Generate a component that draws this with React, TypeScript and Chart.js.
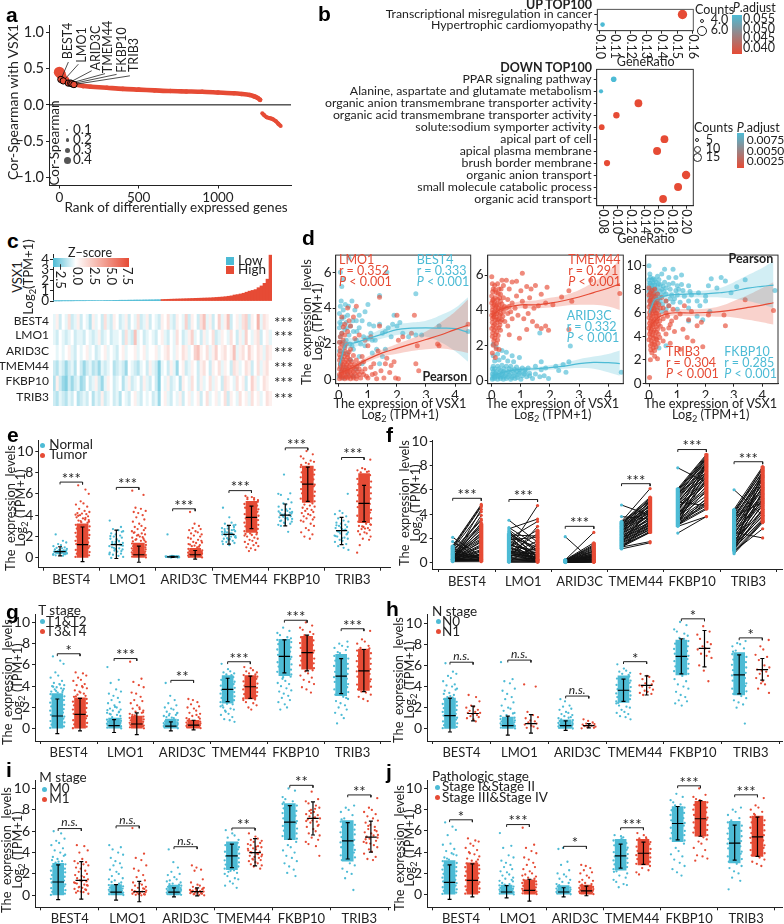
import React, { useEffect, useRef } from "react";
import { Chart, registerables } from "chart.js";
Chart.register(...registerables);

const FONT = 'Lato, "Open Sans", sans-serif';
const BLUE = "#4DBBD5";
const RED = "#E64B35";
const INK = "#222222";

// ---------- panel a ----------
const aRanks = [0, 10, 20, 40, 70, 100, 150, 200, 300, 400, 500, 600, 700, 800, 900, 1000, 1100, 1150, 1200, 1230, 1250, 1265];
const aCors = [0.45, 0.42, 0.38, 0.34, 0.3, 0.28, 0.26, 0.25, 0.235, 0.22, 0.21, 0.2, 0.19, 0.185, 0.18, 0.17, 0.16, 0.15, 0.135, 0.115, 0.095, 0.07];
const aNegRanks = [1279, 1290, 1307, 1330, 1349, 1365, 1380, 1395];
const aNegCors = [-0.115, -0.14, -0.17, -0.185, -0.2, -0.225, -0.26, -0.29];
const aGeneRanks = [10, 25, 57, 72, 80, 92];
const aGeneCors = [0.35, 0.33, 0.3, 0.3, 0.29, 0.28];
const aLabelRanks = [57, 120, 204, 288, 361, 445];
const aLabelCors = [0.59, 0.56, 0.47, 0.43, 0.42, 0.4];

// ---------- panel b ----------
const bUpTerms = ["Transcriptional misregulation in cancer", "Hypertrophic cardiomyopathy"];
const bUpRatio = [0.1534, 0.1017];
const bUpSize = [4.7, 2.3];
const bUpColor = [RED, BLUE];
const bUpTicks = [0.1, 0.11, 0.12, 0.13, 0.14, 0.15, 0.16];
const bDownTerms = [
  "PPAR signaling pathway", "Alanine, aspartate and glutamate metabolism", "organic anion transmembrane transporter activity",
  "organic acid transmembrane transporter activity", "solute:sodium symporter activity", "apical part of cell", "apical plasma membrane",
  "brush border membrane", "organic anion transport", "small molecule catabolic process", "organic acid transport",
];
const bDownRatio = [0.095, 0.0766, 0.1309, 0.0989, 0.0776, 0.1687, 0.158, 0.0853, 0.2001, 0.1885, 0.1667];
const bDownSize = [2.8, 2.1, 3.9, 3.2, 2.9, 3.9, 4, 3.1, 4.2, 4, 3.9];
const bDownColor = [BLUE, BLUE, RED, RED, RED, RED, RED, RED, RED, RED, RED];
const bDownTicks = [0.08, 0.1, 0.12, 0.14, 0.16, 0.18, 0.2];

// ---------- panel c ----------
const cLow = [0.01, 0.01, 0.01, 0.02, 0.02, 0.02, 0.02, 0.03, 0.03, 0.03, 0.03, 0.04, 0.04, 0.04, 0.05, 0.05, 0.05, 0.06, 0.06, 0.06, 0.07, 0.07, 0.08, 0.08, 0.08, 0.09, 0.09, 0.1, 0.1, 0.1, 0.11, 0.11, 0.12, 0.12, 0.13, 0.13];
const cHigh = [0.15, 0.16, 0.17, 0.18, 0.19, 0.2, 0.21, 0.22, 0.23, 0.24, 0.25, 0.26, 0.27, 0.28, 0.29, 0.3, 0.31, 0.33, 0.35, 0.37, 0.39, 0.42, 0.46, 0.5, 0.58, 0.62, 0.68, 0.75, 0.85, 0.95, 1.02, 1.1, 1.28, 1.45, 1.7, 2.1, 4.4];
const genes = ["BEST4", "LMO1", "ARID3C", "TMEM44", "FKBP10", "TRIB3"];
const cBest4 = [-0.5, 0.5, -1, 0, -0.5, 1, -1, -0.5, 0.5, -1, 0, -0.5, -1.5, 0.5, -0.5, 0, -1, 1, -0.5, -1, 0.5, 0, -1, -0.5, 0.5, -1, 0, -0.5, 1, -1, -0.5, 0.5, -1, 0, -0.5, -1, 0.5, 0, 1, -0.5, -1, 0.5, 0, -0.5, 1.5, -1, 0.5, 0, -1, 1, 2, -0.5, 0.5, -1, 0, 1.5, -0.5, 0.5, 2, -1, 0, 0.5, -0.5, 1, 1.5, -1, 0.5, 0, 2.5, -0.5, 1, 0.5, 0];
const cLmo1 = [-0.5, -1, 0, -0.5, -1, -0.5, 0, -1, -0.5, -0.5, -1, 0, -0.5, -1, -0.5, 0.5, -1, -0.5, 0, -1, -0.5, -0.5, 0, -1, 1, -0.5, -1, 2, -0.5, 0, -1, -0.5, 0, -0.5, -1, 0, 0.5, -0.5, -1, 0, -0.5, 1, 0, -1, -0.5, 0.5, 1.5, -0.5, 0, -1, 0.5, -0.5, 0, 1, -1, -0.5, 0.5, 0, -0.5, 1, 0, -1, 0.5, -0.5, 1.5, 0, -0.5, 0.5, 1, -1, 0, 0.5, -0.5];
const cArid3c = [0, -0.5, 0, -0.5, 0, 0.5, -0.5, -1, 0, -0.5, 0, 0.5, -0.5, 0, -1, -0.5, 0, 0.5, -0.5, 0, -0.5, -1, 0, 0.5, -0.5, 0, 0, 0.5, -0.5, 0, 0.5, -0.5, 0, 0, 0.5, -0.5, 0, 0.5, 1, 0, -0.5, 0.5, 0, 1, 0.5, -0.5, 0, 1.5, 2, 0.5, 0, 1, -0.5, 0.5, 1.5, 0, 0.5, 1, 0, 0.5, 2, -0.5, 0.5, 1, 0, 1.5, 0.5, 0, 1, 0.5, -0.5, 1, 0.5];
const cTmem44 = [-1, -1.5, -0.5, -1, -2, -1, -0.5, -1.5, 0, -1, -2, -1, -0.5, -1.5, -1, -2, -0.5, -1, -0.5, 0, -1.5, -1, -0.5, -1, -2, 0, -0.5, -1, -1.5, -0.5, 0, -1, 0.5, -0.5, -1, -2.5, -0.5, 0, -1, 0.5, -0.5, -2, 0, 0.5, -1, -0.5, 0.5, 0, -1, 0.5, 1, 0, -1, 0.5, 0, 1, -0.5, 0.5, 0, -1, 1, 0.5, -0.5, 0, 1, 0.5, -1, 0, 1, -0.5, 0.5, 1, 0];
const cFkbp10 = [-1.5, 0.5, -1, -2, -2.5, -1, -2, -1, -0.5, -2, -1.5, 0, -1, -0.5, 0.5, -1, -2, -0.5, 0.5, 0, -1, -0.5, 0, -1.5, -0.5, 0.5, -1, -0.5, 0, -1, 0.5, -0.5, -1, 0, -1, -2.5, 0, -0.5, 0.5, -1, -0.5, 0, -1.5, 0.5, 0, -0.5, 1, 0, -1, 0.5, -0.5, 0, 1, -0.5, 0.5, 0, -1, 1, 0.5, 0, -0.5, 1, 0, 0.5, -1, 0, 1.5, 0.5, -0.5, 0, 1, 0.5, 0];
const cTrib3 = [-1, -1.5, -0.5, -1, -1.5, -0.5, -1, 0, -1.5, -1, -0.5, -1, 0, -1.5, -0.5, -1, 0.5, -1, -0.5, 0, -1, -0.5, -1.5, 0, -0.5, -1, 0, 0.5, -0.5, -1, 0, -0.5, 0, -1, -0.5, -2, 0, 0.5, -0.5, -1, 0, -0.5, 0.5, -1, 0, 0.5, -0.5, 0, 0.5, -1, 0, 1, -0.5, 0, 0.5, -0.5, 0, 1, -1, 0.5, 0, -0.5, 1, 0, 0.5, -0.5, 1, 0, 0.5, -0.5, 0, 1, 0.5];
const cRows = [cBest4, cLmo1, cArid3c, cTmem44, cFkbp10, cTrib3];

// ---------- panel d: scatter readings [x, y] ----------
const dBest4 = [[0.1, 5.2], [0.05, 4.1], [0.15, 3.9], [0.3, 3.6], [0.1, 3.4], [0.25, 3.2], [0.4, 3], [0.2, 2.8], [0.1, 2.6], [0.05, 2.4], [0.35, 2.5], [0.5, 2.7], [0.6, 2.2], [0.7, 2.9], [0.8, 3.3], [0.9, 3.8], [1, 4.2], [0.55, 3.9], [0.45, 4.4], [0.9, 1.9], [1, 2.3], [1.1, 2.6], [1.2, 3], [1.4, 4.7], [1.4, 3.1], [1.5, 2.6], [1.65, 6], [1.6, 2.7], [1.7, 2.9], [1.8, 2.4], [1.85, 3.1], [1.9, 3.6], [2, 3], [2.1, 3.2], [2.2, 2.6], [2.4, 2.4], [2.65, 2.5], [2.85, 2.5], [2.65, 4.8], [3.45, 3], [4.45, 2.7], [1.4, 0.9], [1.5, 1.3], [1.6, 1.7], [0.2, 1.9], [0.3, 1.5], [0.1, 1.2], [0.05, 0.9], [0.2, 0.7], [0.4, 1.1], [0.5, 1.7], [0.6, 0.6], [0.7, 1.3], [0.8, 0.9], [0.02, 1.6], [0.02, 0.2], [0.3, 0.3], [0.15, 0.1], [0.5, 0.2], [0.1, 0.5], [0.25, 2.2], [0.45, 1.9], [0.75, 2], [0.35, 6.8], [0.05, 6], [0.15, 5.6], [0.02, 3.7], [0.6, 3.3], [1.05, 3.1], [1.25, 2.2], [1.3, 1.7], [1.15, 1.5], [0.02, 2.9], [0.12, 2.1], [0.33, 4.1], [0.08, 3.1], [0.18, 3.5], [0.03, 3.2], [0.22, 4.2], [0.08, 4.4], [0.38, 2], [0.62, 2.7], [0.85, 2.4], [0.03, 2.1], [0.17, 1.5], [0.28, 2.9], [0.48, 3.3], [0.7, 3.6], [1.15, 2.2]];
const dLmo1 = [[0.02, 0.05], [0.1, 0.1], [0.2, 0.05], [0.3, 0.1], [0.4, 0.05], [0.5, 0.1], [0.6, 0.05], [0.75, 0.1], [0.02, 0.3], [0.1, 0.35], [0.2, 0.3], [0.3, 0.35], [0.42, 0.3], [0.55, 0.35], [0.7, 0.3], [0.85, 0.3], [0.02, 0.6], [0.1, 0.6], [0.2, 0.55], [0.3, 0.6], [0.42, 0.55], [0.55, 0.6], [0.7, 0.6], [0.05, 0.85], [0.15, 0.85], [0.27, 0.85], [0.4, 0.85], [0.55, 0.85], [0.02, 1.1], [0.12, 1.15], [0.25, 1.1], [0.38, 1.15], [0.6, 1.1], [0.02, 1.4], [0.15, 1.45], [0.3, 1.4], [0.5, 1.35], [0.8, 1.3], [0.05, 1.8], [0.2, 1.8], [0.4, 1.7], [0.02, 2.1], [0.15, 2.2], [0.3, 2.7], [0.1, 2.6], [0.2, 3.1], [0.35, 3.3], [0.5, 3.5], [0.3, 4], [0.6, 4.1], [0.7, 2.5], [0.9, 2.2], [1, 1.9], [1.1, 2.4], [1.15, 0.3], [1, 0.1], [1.2, 0.9], [1.3, 0.05], [1.35, 1.6], [1.4, 3], [1.4, 4.6], [1.45, 0.5], [1.55, 0.1], [1.6, 0.9], [1.65, 1.2], [1.75, 0.4], [1.8, 0.8], [1.9, 1], [1.95, 0.1], [2, 3.6], [2.05, 2.2], [2.05, 0.05], [2.2, 2.4], [2.5, 2.6], [2.6, 3.6], [2.7, 1.9], [2.65, 0.9], [2.75, 0.5], [3.4, 2], [3.45, 1.9], [4.45, 3.1], [0.05, 0.2], [0.15, 0.2], [0.25, 0.15], [0.35, 0.2], [0.47, 0.2], [0.62, 0.2], [0.08, 0.45], [0.18, 0.45], [0.28, 0.45], [0.37, 0.45], [0.5, 0.45], [0.65, 0.45], [0.8, 0.45], [0.05, 0.72], [0.15, 0.72], [0.25, 0.7], [0.35, 0.72], [0.48, 0.7], [0.62, 0.72], [0.08, 0.98], [0.2, 0.98], [0.32, 0.98], [0.45, 1], [0.05, 1.25], [0.18, 1.3], [0.3, 1.25], [0.05, 1.6], [0.2, 1.6], [0.35, 1.55], [0.1, 2], [0.25, 2], [0.05, 2.4], [0.2, 2.5], [0.15, 2.95], [0.1, 3.5], [0.9, 0.6], [1.1, 0.7], [0.95, 0.2], [1.25, 0.35], [0.7, 0.9], [0.85, 1], [0.4, 3], [0.55, 2.3]];
const dArid3c = [[0.02, 0.05], [0.1, 0.1], [0.2, 0.05], [0.3, 0.1], [0.4, 0.05], [0.5, 0.1], [0.65, 0.05], [0.8, 0.1], [1, 0.05], [0.05, 0.25], [0.15, 0.3], [0.25, 0.25], [0.35, 0.3], [0.45, 0.25], [0.6, 0.3], [0.75, 0.25], [0.9, 0.3], [1.05, 0.25], [1.2, 0.2], [1.4, 0.1], [0.05, 0.5], [0.15, 0.5], [0.3, 0.55], [0.4, 0.5], [0.55, 0.5], [0.7, 0.55], [0.85, 0.5], [1, 0.5], [1.15, 0.45], [1.3, 0.4], [1.5, 0.35], [1.65, 0.2], [1.8, 0.25], [1.95, 0.1], [0.05, 0.8], [0.2, 0.8], [0.35, 0.85], [0.5, 0.8], [0.65, 0.8], [0.85, 0.75], [1.05, 0.7], [1.25, 0.7], [1.5, 0.8], [1.7, 1.05], [0.1, 1.1], [0.25, 1.15], [0.4, 1.3], [0.55, 1.1], [0.75, 1.05], [1.7, 0.6], [1.85, 0.7], [2.2, 0.8], [2.45, 0.9], [2.7, 1.95], [2.3, 0.55], [2.55, 0.45], [0.05, 1.4], [0.2, 1.5], [0.35, 1.7], [0.5, 1.6], [0.15, 1.9], [0.05, 2.05], [0.7, 1.4], [0.95, 1.3], [1.65, 2.7], [2.65, 1.05], [4.45, 0.45], [0.1, 0.2], [0.2, 0.2], [0.3, 0.2], [0.4, 0.18], [0.55, 0.18], [0.7, 0.15], [0.88, 0.15], [0.12, 0.4], [0.25, 0.4], [0.37, 0.42], [0.5, 0.38], [0.65, 0.4], [0.8, 0.38], [0.95, 0.4], [1.12, 0.35], [1.3, 0.25], [0.1, 0.65], [0.25, 0.65], [0.42, 0.65], [0.6, 0.65], [0.78, 0.62], [0.95, 0.6], [1.15, 0.6], [0.02, 0.12], [0.02, 0.35], [0.02, 0.65]];
const dTmem44 = [[0, 5.9], [0.02, 5.5], [0.05, 5.2], [0.1, 5.4], [0.15, 5], [0.2, 5.5], [0.25, 5.2], [0.35, 5.7], [0.3, 4.9], [0.4, 5.4], [0, 4.8], [0.05, 4.6], [0.12, 4.7], [0.2, 4.6], [0.3, 4.5], [0.4, 4.7], [0, 4.4], [0.08, 4.3], [0.15, 4.2], [0.25, 4.3], [0.35, 4.1], [0.02, 4], [0.1, 3.9], [0.2, 3.95], [0.3, 3.8], [0.4, 3.9], [0, 3.7], [0.07, 3.6], [0.15, 3.6], [0.25, 3.5], [0.35, 3.45], [0.02, 3.3], [0.1, 3.2], [0.18, 3.3], [0.28, 3.15], [0, 2.95], [0.08, 2.85], [0.17, 2.75], [0.3, 2.85], [0.02, 2.5], [0.1, 2.4], [0.2, 2.3], [0.05, 2], [0.15, 1.8], [0.25, 1.75], [0.02, 1.55], [0.12, 1.3], [0.5, 5.7], [0.6, 5.2], [0.7, 5.6], [0.85, 5.65], [1.05, 6.1], [1, 5.1], [1.2, 5.35], [1.35, 5.2], [1.5, 5.4], [1.9, 5.3], [0.55, 4.6], [0.7, 4.4], [0.85, 4.8], [1.05, 4.5], [1.15, 4.2], [1.3, 4.7], [1.45, 4.1], [1.6, 4.25], [1.7, 4.9], [1.85, 4.4], [2.1, 4.3], [2.4, 4.75], [2.65, 5.1], [2.75, 4.5], [3.4, 5.7], [4.4, 4.95], [0.55, 3.8], [0.7, 3.5], [0.9, 3.7], [1.1, 3.5], [1.25, 3.8], [1.4, 3.35], [1.55, 3.1], [1.7, 2.95], [1.85, 3.1], [1.95, 2.85], [0.6, 2.6], [0.95, 2.4], [1.2, 2.9], [2.65, 2.9], [0.03, 5.05], [0.12, 5.15], [0.22, 4.95], [0.32, 5.2], [0.03, 4.55], [0.1, 4.45], [0.18, 4.35], [0.27, 4.7], [0.35, 4.35], [0.03, 4.2], [0.12, 4.1], [0.22, 4.1], [0.32, 4.05], [0.44, 4.2], [0.03, 3.85], [0.08, 3.75], [0.17, 3.8], [0.27, 3.7], [0.38, 3.65], [0.02, 3.5], [0.12, 3.45], [0.2, 3.45], [0.3, 3.35], [0.05, 3.1], [0.15, 3], [0.24, 3], [0.03, 2.7], [0.13, 2.6], [0.22, 2.55], [0.07, 2.25], [0.16, 2.1], [0.5, 4.1], [0.6, 4.2], [0.65, 3.9], [0.8, 4.1], [0.45, 3.35], [0.55, 3.1]];
const dFkbp10 = [[0, 10], [0.05, 9], [0.15, 8.9], [0.3, 9.1], [0.45, 9.3], [0.55, 9.7], [0.85, 9.7], [0.7, 9], [0.95, 9], [1.15, 9.2], [0, 8.8], [0.05, 8.5], [0.15, 8.5], [0.25, 8.6], [0.4, 8.4], [0.55, 8.6], [0.7, 8.4], [0.85, 8.5], [1, 8.3], [1.15, 8.4], [1.4, 8.3], [0, 8.2], [0.1, 8.1], [0.2, 8.1], [0.3, 8.2], [0.45, 8], [0.6, 8.1], [0.75, 8], [0.95, 7.9], [1.2, 7.9], [1.45, 7.8], [0, 7.8], [0.08, 7.7], [0.18, 7.7], [0.3, 7.6], [0.45, 7.5], [0.6, 7.6], [0.8, 7.5], [1, 7.5], [1.25, 7.4], [1.5, 7.5], [1.75, 7.7], [0.02, 7.3], [0.12, 7.2], [0.25, 7.1], [0.4, 7], [0.6, 7], [0.85, 6.9], [1.1, 6.9], [1.4, 7], [1.7, 7], [0.05, 6.7], [0.15, 6.6], [0.3, 6.4], [0.6, 6.3], [1, 6.3], [1.4, 6.4], [1.8, 6.6], [2.1, 8.3], [2.2, 8.9], [2.4, 8.1], [2.55, 9], [2.7, 8.7], [2.9, 7.7], [3.1, 8.2], [3.4, 8.8], [4.45, 7.9], [2, 7.4], [2.15, 6.1], [1.7, 5.7], [1.4, 5.3], [1.9, 5.4], [0.6, 3.2], [0.35, 3], [2, 7], [0.03, 9.3], [0.1, 8.8], [0.2, 8.8], [0.35, 8.8], [0.02, 8.5], [0.1, 8.35], [0.2, 8.35], [0.33, 8.45], [0.5, 8.25], [0.03, 8], [0.13, 7.95], [0.25, 7.9], [0.38, 7.85], [0.53, 7.8], [0.03, 7.55], [0.12, 7.5], [0.23, 7.45], [0.37, 7.3], [0.03, 7], [0.1, 6.9], [0.2, 6.85], [0.33, 6.8], [0.48, 6.7], [0.7, 6.6], [0.9, 7.2], [0.08, 6.3], [0.2, 6.2], [0.45, 6.1], [0.75, 7.2], [1.05, 8]];
const dTrib3 = [[0, 8.1], [0.1, 7.9], [0.2, 8], [0.3, 7.6], [0, 7.5], [0.08, 7.3], [0.18, 7.4], [0.3, 7.1], [0.02, 7], [0.1, 6.8], [0.2, 6.9], [0.35, 6.7], [0, 6.5], [0.08, 6.3], [0.18, 6.4], [0.3, 6.2], [0.02, 6], [0.12, 5.9], [0.22, 6], [0.35, 5.8], [0, 5.6], [0.08, 5.5], [0.18, 5.4], [0.3, 5.5], [0.02, 5.1], [0.12, 5], [0.22, 5.1], [0.33, 5], [0, 4.7], [0.08, 4.6], [0.18, 4.5], [0.3, 4.6], [0.02, 4.2], [0.12, 4.1], [0.22, 4], [0.33, 4.2], [0, 3.7], [0.08, 3.6], [0.18, 3.5], [0.28, 3.7], [0.05, 3.2], [0.15, 3], [0.25, 3.1], [0.1, 2.6], [0.2, 2.3], [0.3, 2.1], [0.05, 2], [0.02, 0.5], [0.45, 7.3], [0.6, 7], [0.5, 6.4], [0.7, 6.6], [0.85, 6.3], [0.5, 5.5], [0.65, 5.7], [0.8, 5.3], [0.95, 5.6], [0.5, 4.6], [0.7, 4.7], [0.9, 4.4], [0.5, 3.6], [0.75, 3.4], [1.1, 5.9], [1.25, 6.6], [1.4, 5.4], [1.5, 6.1], [1.2, 4.6], [1.35, 3.9], [1.55, 3.6], [1.7, 4.9], [1.85, 5.2], [2.1, 5.8], [2.65, 5.8], [2.7, 4.9], [1.9, 3.1], [4.4, 6.2], [3.4, 7.1], [1.1, 2.9], [0.05, 7.7], [0.15, 7.6], [0.24, 7.3], [0.05, 7.1], [0.14, 7.1], [0.25, 6.8], [0.05, 6.7], [0.13, 6.55], [0.24, 6.5], [0.4, 6.4], [0.05, 6.2], [0.15, 6.15], [0.27, 5.95], [0.05, 5.8], [0.15, 5.7], [0.25, 5.7], [0.38, 5.3], [0.05, 5.3], [0.15, 5.25], [0.27, 5.25], [0.05, 4.9], [0.15, 4.8], [0.25, 4.8], [0.4, 4.85], [0.05, 4.4], [0.15, 4.35], [0.26, 4.35], [0.05, 3.95], [0.15, 3.85], [0.25, 3.8], [0.38, 3.9], [0.1, 3.35], [0.2, 3.3], [0.32, 3.4], [0.06, 2.85], [0.2, 2.8], [0.6, 4.2], [0.75, 5], [0.6, 6]];

const dXTicks = [0, 1, 2, 3, 4];
const fitX1 = [0, 0.02, 0.1, 0.2, 0.3, 0.5, 1, 1.5, 2, 2.5, 3, 3.5, 4, 4.45];
const fitBest4 = [0.8, 0.85, 1.3, 1.9, 2.05, 2.05, 2.3, 2.55, 2.8, 2.88, 2.9, 2.88, 2.85, 2.65];
const fitBest4Hi = [1.1, 1.2, 1.7, 2.2, 2.35, 2.3, 2.5, 2.85, 3.1, 3.2, 3.3, 3.6, 4, 4.6];
const fitBest4Lo = [0.5, 0.5, 0.9, 1.6, 1.75, 1.8, 2.1, 2.3, 2.5, 2.5, 2.4, 2.1, 1.6, 1];
const fitLmo1X = [0, 0.3, 0.6, 1, 1.5, 2, 2.5, 3, 3.5, 4, 4.45];
const fitLmo1 = [0.35, 0.55, 0.8, 1.15, 1.5, 1.75, 2, 2.25, 2.5, 2.8, 3.05];
const fitLmo1Hi = [0.5, 0.7, 0.95, 1.3, 1.68, 2, 2.3, 2.7, 3.2, 3.8, 4.5];
const fitLmo1Lo = [0.2, 0.4, 0.65, 1, 1.3, 1.45, 1.6, 1.7, 1.75, 1.65, 1.5];
const fitX2 = [0, 0.2, 0.5, 1, 1.5, 2, 2.5, 3, 3.5, 4, 4.4];
const fitTmem44 = [3.6, 3.95, 4.15, 4.3, 4.3, 4.4, 4.55, 4.75, 5, 5.25, 5.5];
const fitTmem44Hi = [3.85, 4.1, 4.3, 4.5, 4.55, 4.7, 4.85, 5.15, 5.6, 6.2, 6.9];
const fitTmem44Lo = [3.35, 3.8, 4, 4.1, 4.1, 4.15, 4.25, 4.3, 4.3, 4.2, 4];
const fitArid3c = [0.25, 0.35, 0.5, 0.62, 0.65, 0.72, 0.8, 0.95, 1.02, 1, 0.95];
const fitArid3cHi = [0.35, 0.42, 0.57, 0.72, 0.75, 0.85, 1, 1.2, 1.35, 1.5, 1.7];
const fitArid3cLo = [0.15, 0.28, 0.43, 0.52, 0.55, 0.6, 0.65, 0.7, 0.65, 0.45, 0.25];
const fitX3 = [0, 0.1, 0.2, 0.4, 0.7, 1, 1.5, 2, 2.5, 3, 3.5, 4, 4.4];
const fitFkbp10 = [6, 6.6, 7.1, 7.3, 7.5, 7.55, 7.6, 7.6, 7.7, 7.85, 8.1, 8.25, 8.35];
const fitFkbp10Hi = [6.5, 7, 7.4, 7.55, 7.75, 7.8, 7.85, 7.9, 8.1, 8.6, 9.2, 9.8, 10.4];
const fitFkbp10Lo = [5.5, 6.2, 6.8, 7.05, 7.25, 7.3, 7.32, 7.3, 7.3, 7.2, 7, 6.7, 6.4];
const fitTrib3 = [4.4, 5, 5.3, 5.7, 5.95, 6, 5.98, 6.02, 6.1, 6.25, 6.45, 6.65, 6.85];
const fitTrib3Hi = [4.9, 5.4, 5.65, 6, 6.2, 6.3, 6.3, 6.35, 6.55, 7, 7.5, 8.1, 8.6];
const fitTrib3Lo = [3.9, 4.6, 4.95, 5.4, 5.7, 5.75, 5.72, 5.7, 5.65, 5.6, 5.4, 5.2, 5];

// ---------- shared strip readings ----------
const jitterReadings = [-0.62, 0.41, 0.88, -0.27, 0.13, -0.94, 0.66, -0.48, 0.29, 0.97, -0.73, -0.09, 0.54, -0.36, 0.78, -0.85, 0.05, 0.37, -0.58, 0.92, -0.18, 0.71, -0.99];
const edgeJitterReadings = [-1, 0.93, -0.82, 1, -0.96, 0.85, 0.98, -0.9, 0.8, -1, 0.9, -0.86, 0.97];

// panel e
const eMeanA = [0.6, 1.25, 0.1, 2.2, 4, 2.55];
const eHiA = [1.05, 2.6, 0.15, 3.05, 5.05, 3.8];
const eLoA = [0.2, -0.05, 0.05, 1.3, 3, 1.25];
const eMeanB = [1.25, 0.3, 0.3, 3.8, 6.9, 5.1];
const eHiB = [2.9, 1.1, 0.7, 4.85, 8.5, 6.8];
const eLoB = [-0.35, -0.4, -0.1, 2.75, 5.3, 3.4];
const eBlockA = [null, null, null, null, null, null];
const eBlockB = [[0, 3.2], [0, 1.4], [0, 0.9], [2.4, 5.3], [5.2, 8.6], [3.3, 7.9]];
const eDotsA = [
  [2.2, 1.6, 1.45, 1.3, 1.2, 1.1, 1, 0.95, 0.9, 0.85, 0.8, 0.75, 0.7, 0.65, 0.6, 0.6, 0.55, 0.5, 0.5, 0.45, 0.4, 0.35, 0.3, 0.25, 0.2, 0.7, 0.55, 0.45, 0.35, 0.6, 0.5, 0.65, 0.42, 0.58, 0.72, 0.38, 0.48, 0.62],
  [3.5, 2.9, 2.7, 2.6, 2.5, 2.3, 2.2, 2.1, 2, 1.9, 1.8, 1.7, 1.6, 1.5, 1.4, 1.3, 1.2, 1.1, 1, 0.9, 0.8, 0.7, 0.6, 0.5, 0.4, 0.3, 0.2, 0.1, 0, 1.5, 1.25, 0.95, 2.45, 2.05, 1.75, 1.55, 1.35, 1.15, 0.85, 0.65, 0.35],
  [2.2, 0.2, 0.18, 0.16, 0.14, 0.12, 0.1, 0.1, 0.08, 0.06, 0.05, 0.04, 0.15, 0.11, 0.09, 0.13, 0.07, 0.17, 0.1, 0.12, 0.08, 0.14],
  [4.7, 3.8, 3.3, 3.2, 3.1, 3, 2.9, 2.8, 2.7, 2.6, 2.5, 2.4, 2.3, 2.2, 2.15, 2.1, 2, 1.9, 1.8, 1.7, 1.6, 1.5, 1.4, 1.3, 1.2, 2.3, 2.5, 2.05, 2.75, 2.65, 2.45, 2.35, 2.25, 1.95, 1.85, 1.75, 1.55, 3.05],
  [7.8, 6.05, 6, 5.9, 5.5, 5.2, 5.1, 5, 4.8, 4.6, 4.5, 4.4, 4.3, 4.2, 4.1, 4, 3.95, 3.9, 3.8, 3.7, 3.6, 3.5, 3.4, 3.3, 3.2, 3.1, 3, 2.45, 4.15, 3.85, 4.55, 4.35, 4.25, 4.05, 3.75, 3.65, 3.45, 3.25],
  [6, 4.4, 4.2, 4.1, 3.9, 3.7, 3.5, 3.4, 3.3, 3.2, 3.1, 3, 2.9, 2.8, 2.7, 2.6, 2.5, 2.4, 2.3, 2.2, 2.1, 2, 1.9, 1.8, 1.7, 1.6, 1.5, 1.3, 1.1, 0.95, 0.75, 3.05, 2.85, 2.65, 2.45, 2.25, 2.05, 1.85],
];
const eDotsB = [
  [6.8, 6.4, 6, 5.3, 5.1, 5, 4.8, 4.6, 4.4, 4.3, 4.2, 4.15, 4.1, 4, 3.9, 3.8, 3.7, 3.6, 3.5, 3.4, 3.35, 3.3, 4.05, 3.95, 3.75, 3.55, 3.45],
  [6.3, 5.9, 4.7, 4.6, 4.4, 4.3, 4.2, 4, 3.8, 3.6, 3.4, 3.2, 3, 2.9, 2.8, 2.7, 2.6, 2.5, 2.4, 2.3, 2.2, 2.1, 2, 1.9, 1.8, 1.7, 1.6, 1.5, 2.35, 2.15, 1.95, 1.75, 1.65, 1.55],
  [4.3, 3.2, 3, 2.8, 2.7, 2.6, 2.5, 2.4, 2.3, 2.2, 2.1, 2, 1.9, 1.8, 1.7, 1.6, 1.5, 1.4, 1.3, 1.2, 1.1, 1, 1.45, 1.25, 1.15, 1.05],
  [5.8, 5.7, 5.6, 5.5, 5.4, 2.3, 2.2, 2.1, 2, 1.9, 1.8, 1.7, 1.6, 1.5, 1.4, 1.3, 1.2, 1.1, 1, 0.9, 0.75, 0.65, 2.35, 2.25, 2.15, 5.45, 5.65],
  [10, 9.7, 9.5, 9.3, 9.1, 9, 8.9, 8.8, 8.7, 5.1, 5, 4.9, 4.8, 4.7, 4.6, 4.5, 4.4, 4.3, 4.2, 4.1, 4, 3.9, 3.8, 3.7, 3.6, 3.5, 3.4, 3.2, 3, 2.8, 2.6, 2.4, 2.2, 2, 1.8],
  [9.2, 8.4, 8.3, 8.2, 8.1, 8, 3.2, 3.1, 3, 2.9, 2.8, 2.7, 2.6, 2.5, 2.4, 2.3, 2.2, 2, 1.8, 1.7, 0.5, 1.2, 8.05, 3.15, 2.95, 2.75],
];
const eEdgeB = [
  [0.1, 0.25, 0.4, 0.55, 0.75, 0.95, 1.1, 1.3, 1.45, 1.6, 1.85, 2, 2.15, 2.35, 2.6, 2.75, 2.95, 3.1],
  [0.05, 0.12, 0.2, 0.28, 0.35, 0.45, 0.52, 0.6, 0.72, 0.8, 0.9, 1, 1.1, 1.22, 1.35],
  [0.05, 0.1, 0.18, 0.22, 0.3, 0.35, 0.42, 0.5, 0.56, 0.65, 0.72, 0.85],
  [2.5, 2.72, 2.95, 3.1, 3.3, 3.55, 3.7, 3.95, 4.1, 4.32, 4.55, 4.7, 4.9, 5.05, 5.25],
  [5.3, 5.55, 5.8, 6.05, 6.2, 6.45, 6.7, 6.85, 7.1, 7.35, 7.55, 7.8, 8, 8.25, 8.5],
  [3.4, 3.7, 3.95, 4.25, 4.5, 4.75, 5.05, 5.3, 5.55, 5.85, 6.05, 6.35, 6.6, 6.9, 7.15, 7.4, 7.75],
];
const eEdgeA = [[], [], [], [], [], []];
const eBrackets = [7.1, 6.6, 4.6, 6.3, 10.3, 9.4];
const eSig = ["***", "***", "***", "***", "***", "***"];

// panel f
const fPairs = [
  [[2.1, 0.5], [1.75, 0.3], [1.4, 4.8], [1.3, 4.7], [1.2, 4.6], [1.1, 4.2], [1, 3.6], [0.9, 3.5], [0.8, 3.2], [0.7, 3], [0.6, 2.7], [0.55, 2.4], [0.5, 2.2], [0.45, 1.9], [0.4, 1.7], [0.35, 1.5], [0.3, 1.3], [0.3, 1.1], [0.3, 0.9], [0.25, 0.7], [0.3, 0.5], [0.25, 0.35], [0.2, 0.3], [0.15, 0.2], [0.1, 0.1], [1, 0.4], [0.7, 0.6], [0.5, 3.1], [0.4, 2.5], [0.6, 2], [0.35, 4.4], [0.3, 3.9], [0.3, 3.3], [0.25, 2.9], [0.3, 2.3], [0.25, 1.8], [0.3, 1.4], [0.3, 1], [0.25, 0.75], [0.25, 0.6], [0.2, 0.45], [0.3, 0.3], [0.2, 0.25], [0.2, 0.2], [0.8, 0.35], [1.2, 0.3], [0.6, 0.45]],
  [[3.5, 1.7], [2.9, 1.4], [2.8, 3.6], [2.7, 1], [2.5, 0.9], [2.4, 0.5], [2.3, 2.2], [2.2, 0.2], [2, 3.4], [1.9, 0.6], [1.7, 0.1], [1.5, 0.8], [1.4, 0.15], [1.3, 2.7], [1.2, 0.4], [1.1, 4.7], [1, 0.2], [0.9, 0.3], [0.8, 2.4], [0.7, 0.1], [0.6, 0.5], [0.5, 1.2], [0.4, 0.2], [0.3, 3], [0.25, 0.15], [0.15, 0.1], [0.1, 1.5], [0.05, 0.05], [2.6, 0.4], [2.35, 1.1], [2.1, 0.3], [1.8, 0.5], [1.6, 0.25], [1.45, 1], [1.25, 0.6], [1.05, 0.35], [0.95, 0.7], [0.85, 0.15], [0.75, 0.5], [0.65, 0.25], [0.55, 0.9], [0.45, 0.3], [0.35, 0.1], [0.2, 0.4], [0.12, 0.2], [1.9, 2.1], [0.7, 1.8], [2.15, 1.3]],
  [[2.15, 0.05], [0.25, 2.5], [0.25, 1.65], [0.22, 1.5], [0.2, 1.4], [0.2, 1.2], [0.18, 1], [0.15, 0.9], [0.15, 0.8], [0.12, 0.7], [0.12, 0.6], [0.1, 0.5], [0.1, 0.4], [0.08, 0.35], [0.08, 0.25], [0.05, 0.2], [0.05, 0.1], [0.03, 0.05], [0.2, 0.3], [0.15, 0.15], [0.24, 1.3], [0.23, 1.1], [0.21, 0.95], [0.19, 0.75], [0.17, 0.65], [0.14, 0.55], [0.13, 0.45], [0.11, 0.3], [0.09, 0.2], [0.07, 0.15], [0.06, 0.12], [0.04, 0.08], [0.22, 0.55], [0.18, 0.45]],
  [[4.75, 3.9], [3.8, 3.6], [3.4, 6.1], [3.3, 5.4], [3.2, 5.3], [3.1, 5.2], [3, 5], [2.9, 4.8], [2.8, 4.7], [2.7, 4.5], [2.6, 4.3], [2.5, 4.2], [2.4, 4], [2.3, 3.9], [2.2, 3.7], [2.1, 3.6], [2, 3.4], [1.9, 3.3], [1.8, 3.2], [1.7, 3.1], [1.6, 3], [1.5, 2.9], [1.4, 2.8], [1.35, 2.6], [1.3, 1.75], [1.15, 1.65], [1.3, 2.5], [1.2, 3.5], [1.6, 4.5], [3.35, 5.1], [3.25, 4.9], [3.15, 4.6], [3.05, 4.4], [2.95, 4.3], [2.85, 4.1], [2.65, 3.9], [2.45, 3.5], [2.25, 3.3], [2.05, 3.1], [1.85, 2.9], [1.65, 2.7], [1.45, 2.5], [2.55, 5.1], [2.35, 4.8], [1.95, 4.1], [1.75, 3.8]],
  [[7.8, 6.6], [6.1, 8.9], [6, 8.8], [5.9, 8.7], [5.8, 8.5], [5.6, 8.4], [5.4, 8.2], [5.2, 8], [5, 7.8], [4.8, 7.5], [4.7, 7.2], [4.5, 7], [4.4, 6.8], [4.2, 6.5], [4.1, 6.2], [4, 6], [3.9, 5.8], [3.8, 5.5], [3.6, 5.2], [3.5, 5], [3.4, 4.8], [3.3, 4.7], [3.2, 4.5], [3.1, 4.4], [3, 3.8], [2.45, 3.8], [3.2, 7.5], [3.5, 8.2], [5, 4.7], [5.95, 8.6], [5.7, 8.3], [5.5, 8.6], [5.3, 8.1], [5.1, 7.3], [4.9, 7.9], [4.6, 6.6], [4.3, 7.1], [3.95, 6.7], [3.7, 6.3], [3.6, 7.9], [3.4, 6.9], [3.3, 6], [3.1, 5.3], [3.05, 5], [5.7, 7.4], [4.2, 8.3]],
  [[6, 3.9], [4.4, 7.9], [4.2, 7.7], [4, 7.5], [3.8, 7.2], [3.6, 7], [3.4, 6.8], [3.2, 6.5], [3, 6.2], [2.8, 6], [2.6, 5.7], [2.4, 5.4], [2.2, 5.2], [2, 5], [1.8, 4.7], [1.6, 4.4], [1.4, 4.1], [1.3, 3.9], [1.2, 3.6], [1, 3.4], [0.95, 2.8], [0.75, 3.3], [2.5, 2.05], [1.1, 6], [1.5, 7], [3.8, 5], [4.3, 7.4], [4.1, 7.8], [3.9, 6.9], [3.7, 7.3], [3.5, 6.4], [3.3, 6.1], [3.1, 7.1], [2.9, 5.6], [2.7, 6.6], [2.5, 5.1], [2.3, 6.3], [2.1, 5.6], [1.9, 4.2], [1.7, 5.3], [1.5, 3.8], [1.35, 4.9], [1.25, 3.5], [1.05, 4.4], [0.85, 3.4], [1.15, 7.6]],
];
const fColumnA = [[0.1, 1.4], [0.05, 2.4], [0, 0.25], [1.15, 3.4], [3, 6.1], [1, 4.4]];
const fColumnB = [[0.1, 3.2], [0.05, 2.7], [0, 1.65], [2.45, 5.4], [4.4, 8.95], [3.3, 7.9]];
const fBrackets = [5.3, 5.2, 3, 6.5, 9.3, 8.3];

// panel g
const gMeanA = [1.2, 0.3, 0.25, 3.7, 6.8, 4.95];
const gHiA = [2.8, 0.85, 0.65, 4.75, 8.35, 6.6];
const gLoA = [-0.45, -0.35, -0.2, 2.55, 5.25, 3.3];
const gMeanB = [1.35, 0.45, 0.35, 3.95, 7.15, 5.45];
const gHiB = [2.85, 1.5, 0.8, 4.95, 8.8, 7.45];
const gLoB = [-0.2, -0.55, -0.1, 2.85, 5.45, 3.5];
const gBlockA = [[0, 3.3], [0, 1], [0, 0.9], [2.4, 5], [5, 8.4], [3.1, 7]];
const gBlockB = [[0, 2.9], [0, 1.2], [0, 0.8], [2.8, 5], [5.6, 8.7], [3.6, 7.5]];
const gDotsA = [
  [6.8, 6.4, 6.1, 5.3, 5, 4.8, 4.5, 4.3, 4.2, 4.1, 4, 3.9, 3.8, 3.7, 3.6, 3.5, 3.4, 4.15, 3.95, 3.75, 3.55, 3.45],
  [5.8, 4.6, 4.3, 3.7, 3.5, 3.3, 3.1, 2.9, 2.7, 2.5, 2.4, 2.2, 2, 1.9, 1.8, 1.7, 1.6, 1.5, 1.4, 1.3, 1.2, 1.1, 2.05, 1.75, 1.55, 1.35],
  [4.3, 3.1, 2.7, 2.4, 2.2, 2, 1.9, 1.8, 1.6, 1.5, 1.4, 1.3, 1.2, 1.1, 1, 1.45, 1.25, 1.05],
  [6.1, 5.6, 5.4, 5.3, 5.2, 5.1, 2.3, 2.1, 2, 1.9, 1.8, 1.6, 1.4, 1.3, 1.1, 0.9, 0.8, 0.65, 2.2, 2.35, 5.05, 1.7],
  [9.5, 9.2, 9, 8.8, 8.6, 4.9, 4.7, 4.5, 4.3, 4.2, 4, 3.8, 3.6, 3.5, 3.3, 3.1, 2.9, 2.7, 2.5, 2.3, 2, 1.8, 8.5, 4.85],
  [8.2, 8, 7.8, 7.6, 7.4, 7.2, 3, 2.8, 2.6, 2.4, 2.2, 2, 1.8, 1.5, 1.3, 1, 0.5, 7.7, 7.1, 2.9],
];
const gDotsB = [
  [5.3, 5.2, 5, 4.8, 4.6, 4.5, 4.2, 4.1, 4, 3.8, 3.6, 3.5, 3.3, 3.2, 3.1, 3, 3.4, 3.9, 3.05],
  [6.3, 4.7, 4.4, 4.1, 3.9, 3.4, 3.3, 3, 2.7, 2.6, 2.4, 2.2, 2, 1.9, 1.7, 1.6, 1.5, 1.4, 1.3, 1.85, 1.55, 1.25],
  [2.8, 2.7, 2.5, 2.3, 2.1, 2, 1.9, 1.7, 1.5, 1.4, 1.2, 1.1, 1, 0.9, 1.3, 0.95],
  [5.8, 5.7, 5.5, 5.4, 5.3, 5.2, 5.1, 2.7, 2.5, 2.4, 2.2, 2, 1.8, 5.05, 2.75],
  [10, 9.7, 9.5, 9.3, 9.1, 8.9, 5.4, 5.2, 5, 4.8, 4.6, 4.4, 4.2, 3.9, 3.7, 3.4, 8.8, 5.5],
  [9.2, 8.4, 8.2, 8, 7.8, 7.6, 3.4, 3.2, 3, 2.8, 2.6, 3.5, 7.55],
];
const gEdgeA = [
  [0.08, 0.22, 0.38, 0.6, 0.72, 0.95, 1.15, 1.3, 1.52, 1.7, 1.85, 2.1, 2.25, 2.45, 2.7, 2.85, 3.05, 3.25],
  [0.03, 0.1, 0.18, 0.24, 0.33, 0.4, 0.48, 0.55, 0.66, 0.74, 0.85, 0.95],
  [0.05, 0.12, 0.16, 0.25, 0.3, 0.37, 0.45, 0.52, 0.6, 0.7, 0.82],
  [2.5, 2.68, 2.9, 3.05, 3.3, 3.45, 3.65, 3.85, 4.05, 4.2, 4.42, 4.6, 4.85],
  [5.1, 5.35, 5.55, 5.85, 6.05, 6.25, 6.55, 6.75, 6.95, 7.25, 7.45, 7.65, 7.95, 8.15, 8.35],
  [3.2, 3.45, 3.7, 3.9, 4.2, 4.4, 4.7, 4.85, 5.15, 5.35, 5.65, 5.9, 6.1, 6.4, 6.6, 6.85],
];
const gEdgeB = [
  [0.05, 0.2, 0.42, 0.55, 0.8, 0.98, 1.2, 1.4, 1.55, 1.8, 1.95, 2.2, 2.4, 2.55, 2.8],
  [0.04, 0.14, 0.22, 0.3, 0.37, 0.46, 0.56, 0.65, 0.78, 0.88, 1.02, 1.15],
  [0.06, 0.13, 0.19, 0.27, 0.34, 0.41, 0.5, 0.58, 0.67, 0.76],
  [2.85, 3.1, 3.25, 3.45, 3.7, 3.85, 4.05, 4.25, 4.45, 4.7, 4.9],
  [5.7, 5.95, 6.15, 6.4, 6.6, 6.85, 7.15, 7.35, 7.6, 7.85, 8.05, 8.3, 8.6],
  [3.7, 3.95, 4.15, 4.45, 4.65, 4.9, 5.15, 5.4, 5.6, 5.85, 6.1, 6.35, 6.6, 6.85, 7.1, 7.35],
];
const gBrackets = [7.05, 6.6, 4.55, 6.3, 10.2, 9.4];
const gSig = ["*", "***", "**", "***", "***", "***"];

// panel h
const hMeanA = [1.25, 0.3, 0.3, 3.65, 6.85, 5.1];
const hHiA = [2.9, 1.2, 0.75, 4.7, 8.5, 7];
const hLoA = [-0.3, -0.6, -0.15, 2.6, 5.2, 3.3];
const hMeanB = [1.45, 0.5, 0.3, 4.1, 7.6, 5.6];
const hHiB = [2.15, 1.35, 0.5, 5, 9.3, 6.65];
const hLoB = [0.75, -0.4, 0.1, 3.2, 5.85, 4.6];
const hBlockA = [[0, 2.9], [0, 1.1], [0, 0.85], [2.5, 5], [5.1, 8.4], [3.2, 7.2]];
const hBlockB = [null, null, null, null, null, null];
const hDotsA = [
  [6.2, 5.4, 5.2, 5, 4.8, 4.5, 4.2, 4.1, 4, 3.8, 3.6, 3.4, 3.2, 3, 3.7, 3.3, 3.1, 2.95],
  [6.3, 4.7, 4.5, 4.3, 3.8, 3.6, 3.3, 3, 2.8, 2.5, 2.2, 2, 1.9, 1.7, 1.5, 1.3, 1.45, 1.2],
  [2.8, 2.6, 2.2, 2.1, 1.9, 1.8, 1.6, 1.5, 1.4, 1.3, 1.2, 1.1, 1, 0.9, 1.05],
  [6.1, 5.7, 5.5, 5.4, 5.3, 5.2, 5.1, 2.4, 2.2, 2.1, 2, 1.8, 1.6, 1.5, 1.4, 1.2, 1.1, 0.9, 2.45],
  [10.1, 9.8, 9.4, 9.2, 9, 8.8, 8.6, 5, 4.7, 4.5, 4.2, 4, 3.8, 3.5, 3.2, 3, 2.7, 2.6, 2.4, 2.2, 8.5],
  [8.3, 8.1, 8, 7.8, 7.6, 7.4, 3.1, 2.9, 2.7, 2.5, 2.3, 2, 0.5, 7.3],
];
const hDotsB = [
  [3.2, 3, 2.6, 2.2, 2.1, 2, 1.8, 1.7, 1.6, 1.5, 1.5, 1.4, 1.3, 1.2, 1.1, 1, 0.9, 0.7],
  [4.2, 4, 1.6, 1.3, 1.1, 1, 0.8, 0.7, 0.6, 0.5, 0.4, 0.3, 0.2, 0.1, 0.05],
  [0.9, 0.75, 0.6, 0.5, 0.45, 0.4, 0.35, 0.3, 0.25, 0.2, 0.15, 0.1, 0.05],
  [5.2, 5, 4.9, 4.7, 4.5, 4.3, 4.2, 4.1, 4, 3.9, 3.7, 3.6, 3.5, 3.4, 3.3, 3.2],
  [9.7, 9.2, 8.9, 8.5, 8.2, 8, 7.8, 7.6, 7.5, 7.3, 7.1, 6.9, 6.7, 6, 5.5, 4.5],
  [8.4, 7.8, 7.5, 7, 6.8, 6.5, 6, 5.8, 5.6, 5.5, 5.4, 5.2, 5, 4.8, 4.5, 4.2, 3.8, 3.4, 4.3],
];
const hEdgeA = [
  [0.06, 0.18, 0.35, 0.52, 0.7, 0.88, 1.05, 1.25, 1.42, 1.6, 1.78, 1.95, 2.2, 2.35, 2.55, 2.8],
  [0.04, 0.11, 0.2, 0.27, 0.36, 0.43, 0.51, 0.62, 0.7, 0.8, 0.92, 1.05],
  [0.03, 0.09, 0.17, 0.23, 0.32, 0.38, 0.46, 0.55, 0.64, 0.74, 0.83],
  [2.6, 2.8, 3, 3.15, 3.35, 3.55, 3.75, 3.95, 4.15, 4.35, 4.55, 4.75, 4.95],
  [5.2, 5.45, 5.7, 5.9, 6.15, 6.4, 6.6, 6.9, 7.1, 7.35, 7.55, 7.8, 8.05, 8.3],
  [3.3, 3.55, 3.8, 4.05, 4.3, 4.55, 4.8, 5.05, 5.3, 5.55, 5.8, 6.05, 6.3, 6.55, 6.8, 7.05],
];
const hEdgeB = [[], [], [], [], [], []];
const hBrackets = [6.3, 6.5, 3.1, 6.35, 10.4, 8.6];
const hSig = ["n.s.", "n.s.", "n.s.", "*", "*", "*"];

// panel i
const iMeanA = [1.25, 0.3, 0.3, 3.7, 6.85, 5.1];
const iHiA = [2.85, 1, 0.7, 4.8, 8.4, 6.8];
const iLoA = [-0.4, -0.45, -0.15, 2.6, 5.25, 3.4];
const iMeanB = [1.4, 0.35, 0.35, 4, 7.2, 5.45];
const iHiB = [3.15, 1.3, 0.7, 5.3, 8.75, 6.95];
const iLoB = [-0.35, -0.6, -0.05, 2.75, 5.65, 4.05];
const iBlockA = [[0, 3], [0, 1], [0, 0.95], [2.4, 5], [5.2, 8.6], [3.2, 7]];
const iBlockB = [null, null, null, null, null, null];
const iDotsA = [
  [6, 5.8, 5.3, 5.1, 4.9, 4.7, 4.4, 4.2, 4, 3.8, 3.6, 3.4, 3.2, 3.05, 3.7, 3.3, 3.15],
  [4.7, 4.5, 4.3, 4, 3.8, 3.5, 3.2, 3, 2.8, 2.6, 2.4, 2.2, 2, 1.8, 1.6, 1.4, 1.2, 1.5, 1.25, 1.1],
  [4.3, 3.1, 2.6, 2.2, 2, 1.9, 1.7, 1.5, 1.4, 1.2, 1.1, 1, 1.3, 1.05],
  [6.1, 5.8, 5.6, 5.4, 5.2, 2.3, 2.1, 2, 1.8, 1.6, 1.5, 1.3, 1.1, 0.9, 0.7, 2.2, 2.35],
  [10, 9.8, 9.2, 9, 8.8, 5, 4.7, 4.5, 4.2, 4, 3.7, 3.5, 3.2, 3, 2.7, 2.4, 2.1, 1.8, 8.7],
  [8.4, 8.2, 8, 7.8, 7.5, 7.2, 3, 2.8, 2.5, 2.2, 2, 1.6, 0.5, 7.1],
];
const iDotsB = [
  [4.7, 4.6, 4.2, 4, 3.4, 3.2, 3.1, 3, 2.9, 2.8, 2.6, 2.5, 2.3, 2.2, 2, 1.9, 1.8, 1.7, 1.6, 1.5, 1.4, 1.3, 1.2, 1.1, 1, 0.9, 0.8, 0.7, 0.6, 0.5, 0.4, 0.3, 0.15, 0.25, 0.35, 0.55, 0.75, 0.95, 1.15, 1.35],
  [6.3, 3.9, 3.5, 3.3, 2.8, 2.5, 2.3, 1.9, 1.7, 1.4, 1.2, 1.1, 1, 0.9, 0.8, 0.7, 0.6, 0.5, 0.4, 0.35, 0.3, 0.25, 0.2, 0.15, 0.1, 0.05, 0, 0.45, 0.28, 0.12, 0.65, 0.32, 0.08],
  [2.8, 2.6, 2.4, 2.3, 1.5, 1.2, 1, 0.9, 0.8, 0.7, 0.6, 0.55, 0.5, 0.45, 0.4, 0.35, 0.3, 0.25, 0.2, 0.15, 0.1, 0.05, 0, 0.32, 0.48, 0.22, 0.12, 0.62, 0.38],
  [5.8, 5.5, 5.3, 5.2, 5.1, 5, 4.9, 4.8, 4.7, 4.6, 4.5, 4.4, 4.3, 4.2, 4.1, 4, 3.9, 3.8, 3.7, 3.6, 3.5, 3.4, 3.3, 3.2, 3.1, 3, 2.9, 2.8, 2.7, 2.5, 4.35, 4.05, 3.85, 3.65, 3.35, 4.55],
  [9.7, 9, 8.8, 8.6, 8.4, 8.2, 8, 7.8, 7.6, 7.5, 7.4, 7.3, 7.2, 7.1, 7, 6.9, 6.8, 6.6, 6.4, 6.2, 6, 5.8, 5.6, 5.4, 5.2, 5, 4.8, 4.6, 3.7, 7.7, 7.25, 6.95, 6.5, 7.9, 8.1],
  [9.1, 8.2, 8, 7.8, 7.6, 7.4, 7.2, 7, 6.8, 6.6, 6.4, 6.2, 6, 5.9, 5.8, 5.6, 5.5, 5.4, 5.3, 5.1, 5, 4.9, 4.7, 4.5, 4.3, 4.1, 3.9, 3.6, 3.4, 3.3, 5.65, 5.25, 4.85, 6.1, 6.5],
];
const iEdgeA = [
  [0.04, 0.16, 0.33, 0.48, 0.67, 0.84, 1.02, 1.2, 1.38, 1.55, 1.74, 1.9, 2.15, 2.3, 2.5, 2.72, 2.9],
  [0.03, 0.1, 0.17, 0.26, 0.34, 0.42, 0.52, 0.63, 0.72, 0.84, 0.96],
  [0.05, 0.11, 0.2, 0.26, 0.35, 0.43, 0.5, 0.6, 0.68, 0.8, 0.9],
  [2.5, 2.7, 2.88, 3.08, 3.28, 3.48, 3.68, 3.9, 4.08, 4.3, 4.5, 4.7, 4.92],
  [5.3, 5.55, 5.8, 6.05, 6.25, 6.5, 6.75, 6.95, 7.2, 7.45, 7.7, 7.9, 8.15, 8.4, 8.55],
  [3.3, 3.55, 3.75, 4, 4.25, 4.5, 4.7, 4.95, 5.2, 5.45, 5.7, 5.9, 6.15, 6.4, 6.6, 6.9],
];
const iEdgeB = [[], [], [], [], [], []];
const iBrackets = [6.25, 6.5, 4.55, 6.3, 10.3, 9.4];
const iSig = ["n.s.", "n.s.", "n.s.", "**", "**", "**"];

// panel j
const jMeanA = [1.15, 0.25, 0.25, 3.65, 6.7, 4.85];
const jHiA = [2.8, 0.85, 0.65, 4.75, 8.3, 6.55];
const jLoA = [-0.45, -0.3, -0.2, 2.5, 5.15, 3.25];
const jMeanB = [1.35, 0.4, 0.35, 3.9, 7.15, 5.45];
const jHiB = [2.9, 1.45, 0.8, 4.95, 8.85, 7.3];
const jLoB = [-0.2, -0.6, -0.1, 2.85, 5.5, 3.6];
const jBlockA = [[0, 3.2], [0, 0.9], [0, 0.85], [2.3, 5.2], [5, 8.3], [3, 6.9]];
const jBlockB = [[0, 3], [0, 1.4], [0, 0.9], [2.8, 5.2], [5.5, 8.8], [3.6, 7.4]];
const jDotsA = [
  [6.8, 6.4, 6.1, 5.6, 4.8, 4.7, 4.3, 4.1, 3.9, 3.7, 3.5, 3.3, 3.8, 3.4],
  [5.8, 4.6, 4.4, 3.7, 3.5, 3.2, 3, 2.8, 2.6, 2.4, 2.2, 2.1, 1.9, 1.8, 1.6, 1.5, 1.4, 1.3, 1.1, 1, 1.25, 0.95],
  [4.3, 4.4, 3.1, 2.8, 2.3, 2, 1.9, 1.7, 1.5, 1.4, 1.2, 1.1, 1, 0.9],
  [5.6, 5.5, 5.4, 2.2, 2, 1.8, 1.6, 1.4, 1.2, 1, 0.9, 0.7, 5.3, 2.15],
  [9.5, 9.2, 8.9, 8.7, 8.5, 4.8, 4.4, 4.1, 3.8, 3.6, 3.3, 3, 2.7, 2.4, 2.1, 1.8, 8.4],
  [8.2, 8, 7.8, 7.5, 7.2, 7, 2.9, 2.7, 2.5, 2.2, 2, 1.6, 1.3, 0.5],
];
const jDotsB = [
  [5.3, 5.1, 5, 4.8, 4.6, 4.4, 4.2, 4, 3.8, 3.6, 3.4, 3.2, 3.1, 3.9, 3.3],
  [6.3, 4.7, 4.4, 4.1, 3.9, 3.5, 3.3, 3, 2.8, 2.6, 2.4, 2.2, 2, 1.9, 1.7, 1.6, 1.5, 1.8],
  [2.8, 2.7, 2.5, 2.3, 2.1, 2, 1.8, 1.6, 1.4, 1.3, 1.1, 1, 1.2, 0.95],
  [5.8, 5.6, 5.4, 5.3, 2.7, 2.5, 2.3, 2.1, 1.9, 5.25],
  [10, 9.4, 9.2, 9, 5.4, 5.2, 5, 4.8, 4.4, 4.2, 3.7, 3.6, 3.4, 3.2, 8.9],
  [9.1, 8.4, 8.2, 8, 7.8, 7.6, 3.5, 3.3, 3.1, 2.9, 2.7, 7.5],
];
const jEdgeA = [
  [0.07, 0.2, 0.36, 0.5, 0.7, 0.86, 1.08, 1.24, 1.4, 1.6, 1.8, 1.96, 2.2, 2.36, 2.6, 2.75, 2.98, 3.15],
  [0.02, 0.09, 0.15, 0.23, 0.3, 0.38, 0.47, 0.55, 0.64, 0.76, 0.87],
  [0.04, 0.1, 0.19, 0.25, 0.33, 0.41, 0.48, 0.57, 0.66, 0.78],
  [2.4, 2.6, 2.85, 3, 3.22, 3.42, 3.6, 3.82, 4, 4.22, 4.42, 4.65, 4.85, 5.1],
  [5.1, 5.3, 5.6, 5.8, 6, 6.3, 6.5, 6.75, 7, 7.2, 7.5, 7.7, 7.95, 8.2],
  [3.1, 3.35, 3.6, 3.85, 4.05, 4.35, 4.55, 4.8, 5.05, 5.25, 5.5, 5.75, 6, 6.25, 6.5, 6.8],
];
const jEdgeB = [
  [0.09, 0.24, 0.44, 0.58, 0.78, 1, 1.18, 1.36, 1.58, 1.76, 2, 2.18, 2.4, 2.58, 2.76, 2.94],
  [0.05, 0.13, 0.2, 0.29, 0.36, 0.44, 0.55, 0.68, 0.82, 0.96, 1.1, 1.25, 1.38],
  [0.05, 0.14, 0.2, 0.28, 0.36, 0.45, 0.53, 0.63, 0.72, 0.85],
  [2.9, 3.1, 3.35, 3.5, 3.72, 3.9, 4.12, 4.3, 4.52, 4.75, 4.95, 5.15],
  [5.6, 5.85, 6.1, 6.3, 6.55, 6.8, 7.05, 7.25, 7.5, 7.75, 8, 8.2, 8.45, 8.7],
  [3.7, 3.9, 4.2, 4.4, 4.65, 4.88, 5.1, 5.35, 5.6, 5.8, 6.05, 6.3, 6.55, 6.8, 7, 7.3],
];
const jBrackets = [7.05, 6.6, 4.55, 6.3, 10.25, 9.4];
const jSig = ["*", "***", "*", "***", "***", "***"];

const yTicks10 = [0, 2, 4, 6, 8, 10];

// ---------- helpers ----------
const pair = (xs: number[], ys: number[]) => xs.map((x, i) => ({ x, y: ys[i] }));
const gap = (pts: any[]) => [...pts, { x: pts[0].x, y: null }];
const seg = (x1: number, y1: number, x2: number, y2: number) => gap([{ x: x1, y: y1 }, { x: x2, y: y2 }]);

const axis = (o: any) => ({
  type: "linear",
  min: o.min,
  max: o.max,
  offset: false,
  reverse: !!o.reverse,
  afterBuildTicks: (s: any) => { s.ticks = o.ticks.map((value: number) => ({ value })); },
  afterFit: (s: any) => { if (s.isHorizontal()) s.height = o.gutter; else s.width = o.gutter; },
  grid: { display: true, drawOnChartArea: false, drawTicks: true, tickLength: o.tick ?? 3, color: INK, lineWidth: 1 },
  border: { display: o.border !== false, color: INK, width: 1 },
  ticks: {
    display: o.showLabels !== false,
    font: { family: FONT, size: o.size ?? 13 },
    color: INK,
    padding: o.pad ?? 1,
    autoSkip: false,
    maxRotation: 0,
    minRotation: 0,
    callback: (v: number, i: number) => (o.labels ? o.labels[i] : String(v)),
  },
});

const options = (box: number[], plot: number[], scales: any) => ({
  responsive: false,
  animation: false,
  layout: { autoPadding: false, padding: { left: 0, bottom: 0, top: plot[1] - box[1], right: box[0] + box[2] - plot[2] } },
  plugins: { legend: { display: false }, tooltip: { enabled: false } },
  events: [],
  scales,
});

const framePlugin = (color = "#333333") => ({
  id: "frame",
  afterDatasetsDraw(chart: any) {
    const { left, top, width, height } = chart.chartArea;
    const c = chart.ctx;
    c.save(); c.strokeStyle = color; c.lineWidth = 1; c.strokeRect(left, top, width, height); c.restore();
  },
});

const sigPlugin = (levels: number[], sig: string[], size: number) => ({
  id: "sig",
  afterDatasetsDraw(chart: any) {
    const c = chart.ctx;
    c.save();
    c.fillStyle = INK;
    c.textAlign = "center";
    levels.forEach((lv, i) => {
      const isNs = sig[i] === "n.s.";
      c.font = `${isNs ? "italic " : ""}${isNs ? size - 1 : size + 2}px ${FONT}`;
      c.textBaseline = "middle";
      c.fillText(sig[i], chart.scales.x.getPixelForValue(i), chart.scales.y.getPixelForValue(lv) - (isNs ? 6 : 3));
    });
    c.restore();
  },
});

const downLabelsPlugin = (values: number[], labels: string[]) => ({
  id: "downLabels",
  afterDraw(chart: any) {
    const c = chart.ctx;
    const base = chart.chartArea.bottom + 3.5;
    c.save();
    c.fillStyle = INK;
    c.font = `12.5px ${FONT}`;
    c.textBaseline = "middle";
    c.textAlign = "left";
    values.forEach((v, i) => {
      c.save();
      c.translate(chart.scales.x.getPixelForValue(v), base);
      c.rotate(Math.PI / 2);
      c.fillText(labels[i], 0, 0);
      c.restore();
    });
    c.restore();
  },
});

const bracketPts = (levels: number[], half: number, drop: number) =>
  levels.flatMap((y, i) => gap([{ x: i - half, y: y - drop }, { x: i - half, y }, { x: i + half, y }, { x: i + half, y: y - drop }]));

const lineSet = (data: any[], color: string, width: number, order: number) => ({
  type: "scatter", data, showLine: true, borderColor: color, borderWidth: width, pointRadius: 0, tension: 0, order, spanGaps: false, clip: false,
});

function stripConfig(box: number[], plot: number[], c: any) {
  const half = c.half ?? 0.2;
  const spread = 0.125;
  const stats = (mean: number[], hi: number[], lo: number[], side: number) =>
    mean.flatMap((m, i) => {
      const x = i + side * half;
      return [...seg(x, lo[i], x, hi[i]), ...seg(x - 0.1, m, x + 0.1, m), ...seg(x - 0.035, hi[i], x + 0.035, hi[i]), ...seg(x - 0.035, lo[i], x + 0.035, lo[i])];
    });
  const dots = (lists: number[][], side: number) =>
    lists.flatMap((vals, i) => vals.map((y, k) => ({ x: i + side * half + jitterReadings[(k + i * 5) % jitterReadings.length] * spread, y })));
  const edges = (lists: number[][], side: number) =>
    lists.flatMap((vals, i) => vals.map((y, k) => ({ x: i + side * half + edgeJitterReadings[(k + i * 3) % edgeJitterReadings.length] * spread, y })));
  const blocks = [
    ...c.blockA.map((b: any, i: number) => (b ? { x: i - half, y: b, color: BLUE } : null)),
    ...c.blockB.map((b: any, i: number) => (b ? { x: i + half, y: b, color: RED } : null)),
  ].filter(Boolean);
  const datasets: any[] = [
    lineSet(stats(c.meanA, c.hiA, c.loA, -1), "#000000", 1.2, 0),
    lineSet(stats(c.meanB, c.hiB, c.loB, 1), "#000000", 1.2, 0),
    lineSet(bracketPts(c.brackets, half, 0.22), "#222222", 1, 0),
    { type: "scatter", data: dots(c.dotsA, -1), backgroundColor: BLUE, pointRadius: 1.15, borderWidth: 0, order: 1 },
    { type: "scatter", data: dots(c.dotsB, 1), backgroundColor: RED, pointRadius: 1.15, borderWidth: 0, order: 1 },
    { type: "scatter", data: edges(c.edgeA, -1), backgroundColor: BLUE, pointRadius: 1.15, borderWidth: 0, order: 1 },
    { type: "scatter", data: edges(c.edgeB, 1), backgroundColor: RED, pointRadius: 1.15, borderWidth: 0, order: 1 },
    { type: "bar", data: blocks.map((b: any) => ({ x: b.x, y: b.y })), backgroundColor: blocks.map((b: any) => b.color), barThickness: 11, grouped: false, order: 2 },
  ];
  return {
    type: "scatter",
    data: { datasets },
    plugins: [sigPlugin(c.brackets, c.sig, 13)],
    options: options(box, plot, {
      x: axis({ min: c.xMin, max: c.xMax, ticks: [0, 1, 2, 3, 4, 5], labels: genes, gutter: box[1] + box[3] - plot[3], size: 13, pad: 1 }),
      y: axis({ min: c.yMin, max: c.yMax, ticks: yTicks10, gutter: plot[0] - box[0], size: 14, pad: 2 }),
    }),
  };
}

function fConfig(box: number[], plot: number[]) {
  const half = 0.254;
  const lines = fPairs.flatMap((ps, i) => ps.flatMap(([a, b]) => seg(i - half, a, i + half, b)));
  const leftDots = fPairs.flatMap((ps, i) => ps.map(([a]) => ({ x: i - half, y: a })));
  const rightDots = fPairs.flatMap((ps, i) => ps.map(([, b]) => ({ x: i + half, y: b })));
  const columns = [
    ...fColumnA.map((b, i) => ({ x: i - half, y: b })),
    ...fColumnB.map((b, i) => ({ x: i + half, y: b })),
  ];
  const colColors = [...fColumnA.map(() => BLUE), ...fColumnB.map(() => RED)];
  return {
    type: "scatter",
    data: {
      datasets: [
        { type: "scatter", data: leftDots, backgroundColor: BLUE, pointRadius: 1.6, borderWidth: 0, order: 1 },
        { type: "scatter", data: rightDots, backgroundColor: RED, pointRadius: 1.6, borderWidth: 0, order: 1 },
        { type: "bar", data: columns, backgroundColor: colColors, barThickness: 3.5, grouped: false, order: 2 },
        lineSet(lines, "#111111", 1, 3),
        lineSet(bracketPts(fBrackets, 0.254, 0.2), "#222222", 1, 0),
      ],
    },
    plugins: [sigPlugin(fBrackets, ["***", "***", "***", "***", "***", "***"], 13)],
    options: options(box, plot, {
      x: axis({ min: -0.609, max: 5.61, ticks: [0, 1, 2, 3, 4, 5], labels: genes, gutter: box[1] + box[3] - plot[3], size: 13, pad: 2 }),
      y: axis({ min: -0.5, max: 10.05, ticks: yTicks10, gutter: plot[0] - box[0], size: 14, pad: 2 }),
    }),
  };
}

function band(xs: number[], hi: number[], lo: number[], mid: number[], color: string, fill: string) {
  return [
    { type: "scatter", data: pair(xs, mid), showLine: true, borderColor: color, borderWidth: 1.2, pointRadius: 0, tension: 0.4, order: 0 },
    { type: "scatter", data: pair(xs, hi), showLine: true, borderWidth: 0, borderColor: "transparent", backgroundColor: fill, pointRadius: 0, fill: "+1", tension: 0.4, order: 1 },
    { type: "scatter", data: pair(xs, lo), showLine: true, borderWidth: 0, borderColor: "transparent", pointRadius: 0, fill: false, tension: 0.4, order: 1 },
  ];
}
const cloud = (pts: number[][], color: string, order: number) => ({
  type: "scatter", data: pts.map(([x, y]) => ({ x, y })), backgroundColor: color, pointRadius: 2.5, borderWidth: 0, order,
});

function dConfig(box: number[], plot: number[], o: any) {
  return {
    type: "scatter",
    data: { datasets: o.sets },
    plugins: [framePlugin()],
    options: options(box, plot, {
      x: axis({ min: o.xMin, max: o.xMax, ticks: dXTicks, gutter: box[1] + box[3] - plot[3], size: 13, pad: 1 }),
      y: axis({ min: o.yMin, max: o.yMax, ticks: o.yTicks, gutter: plot[0] - box[0], size: 13.5, pad: 1 }),
    }),
  };
}

const zColor = (z: number) => {
  const mix = (a: number[], t: number) => a.map((v) => Math.round(255 + (v - 255) * t));
  const rgb = z < 0 ? mix([77, 187, 213], Math.min(1, -z / 3.6)) : mix([230, 75, 53], Math.min(1, z / 6));
  return `rgb(${rgb.join(",")})`;
};

const BOX: any = {
  a: [[0, 15, 300, 200], [49, 20, 291, 185.5]],
  bUp: [[300, 0, 400, 60], [597.3, 8.3, 693.3, 30.7]],
  bDown: [[300, 60, 400, 180], [596.7, 69, 693.3, 205.7]],
  cBar: [[30, 245, 242, 66], [53, 251, 272, 311]],
  cHeat: [[53, 314, 219, 92], [53, 314, 272, 406]],
  d1: [[318, 246, 160, 152], [335.7, 252.3, 470.7, 383.7]],
  d2: [[472, 246, 158, 152], [487.7, 252.3, 623.3, 383.7]],
  d3: [[628, 246, 156, 152], [645.7, 252.3, 778, 383.7]],
  e: [[10, 430, 382, 158], [38.3, 436.7, 390, 567.7]],
  f: [[410, 430, 374, 158], [432.7, 436, 782.7, 569]],
  g: [[8, 604, 384, 158], [35, 610, 390, 741]],
  h: [[400, 604, 384, 158], [427, 610, 782, 741]],
  i: [[8, 770, 384, 154], [35, 776.7, 390, 907.3]],
  j: [[400, 770, 384, 154], [427, 776.7, 782, 907.3]],
};

function buildConfigs(): Record<string, any> {
  const [ab, ap] = BOX.a;
  const aConfig = {
    type: "scatter",
    data: {
      datasets: [
        { type: "scatter", data: pair(aGeneRanks, aGeneCors), backgroundColor: RED, borderColor: "#000", borderWidth: 1, pointRadius: 3.2, order: 0 },
        lineSet(aGeneRanks.flatMap((r, i) => seg(r, aGeneCors[i], aLabelRanks[i], aLabelCors[i])), "#222", 0.8, 1),
        { type: "scatter", data: pair(aRanks, aCors), showLine: true, borderColor: RED, borderWidth: 4.6, backgroundColor: RED, pointRadius: (c: any) => 2.3 + Math.max(0, (c.raw?.y ?? 0) - 0.25) * 16, pointBorderWidth: 0, tension: 0.3, borderCapStyle: "round", order: 2 },
        { type: "scatter", data: pair(aNegRanks, aNegCors), showLine: true, borderColor: RED, borderWidth: 4, backgroundColor: RED, pointRadius: 2, pointBorderWidth: 0, tension: 0.3, order: 2 },
        lineSet(seg(-65, 0, 1460, 0), "#000", 1, 3),
      ],
    },
    options: options(ab, ap, {
      x: axis({ min: -65, max: 1460, ticks: [0, 500, 1000], gutter: ab[1] + ab[3] - ap[3], size: 13.5, pad: 1 }),
      y: axis({ min: -1.11, max: 1.09, ticks: [-1, -0.5, 0, 0.5, 1], labels: ["\u22121.0", "\u22120.5", "0.0", "0.5", "1.0"], gutter: ap[0] - ab[0], size: 14.5, pad: 2 }),
    }),
  };

  const termAxis = (min: number, max: number, ticks: number[], labels: string[], gutter: number) =>
    axis({ min, max, ticks, labels, gutter, size: 12.3, pad: 2, reverse: true });

  const [bub, bup] = BOX.bUp;
  const bUpConfig = {
    type: "scatter",
    data: { datasets: [{ type: "scatter", data: bUpRatio.map((x, i) => ({ x, y: i })), backgroundColor: bUpColor, pointRadius: bUpSize, borderWidth: 0 }] },
    plugins: [framePlugin("#555"), downLabelsPlugin(bUpTicks, bUpTicks.map((v) => v.toFixed(2)))],
    options: options(bub, bup, {
      x: axis({ min: 0.0983, max: 0.1604, ticks: bUpTicks, showLabels: false, gutter: bub[1] + bub[3] - bup[3] }),
      y: termAxis(-0.5, 1.6, [0, 1], bUpTerms, bup[0] - bub[0]),
    }),
  };
  const [bdb, bdp] = BOX.bDown;
  const bDownConfig = {
    type: "scatter",
    data: { datasets: [{ type: "scatter", data: bDownRatio.map((x, i) => ({ x, y: i })), backgroundColor: bDownColor, pointRadius: bDownSize, borderWidth: 0 }] },
    plugins: [framePlugin("#333"), downLabelsPlugin(bDownTicks, bDownTicks.map((v) => v.toFixed(2)))],
    options: options(bdb, bdp, {
      x: axis({ min: 0.0703, max: 0.2106, ticks: bDownTicks, showLabels: false, gutter: bdb[1] + bdb[3] - bdp[3] }),
      y: termAxis(-0.83, 10.56, bDownTerms.map((_, i) => i), bDownTerms, bdp[0] - bdb[0]),
    }),
  };

  const [cb, cp] = BOX.cBar;
  const cVals = [...cLow, ...cHigh];
  const cBarConfig = {
    type: "bar",
    data: {
      labels: cVals.map((_, i) => i),
      datasets: [{ data: cVals, backgroundColor: cVals.map((_, i) => (i < cLow.length ? BLUE : RED)), barPercentage: 1, categoryPercentage: 1, borderWidth: 0 }],
    },
    options: options(cb, cp, {
      x: { type: "category", display: false, offset: true },
      y: axis({ min: -0.08, max: 4.5, ticks: [0, 1, 2, 3, 4], gutter: cp[0] - cb[0], size: 13.5, pad: 1 }),
    }),
  };
  const [hb, hp] = BOX.cHeat;
  const cHeatConfig = {
    type: "bar",
    data: {
      labels: cBest4.map((_, i) => i),
      datasets: cRows.map((row, r) => ({
        data: row.map(() => [r, r + 1]),
        backgroundColor: row.map(zColor),
        barPercentage: 1,
        categoryPercentage: 1,
        grouped: false,
        borderWidth: 0,
      })),
    },
    options: options(hb, hp, {
      x: { type: "category", display: false, offset: true },
      y: { type: "linear", display: false, min: 0, max: 6, reverse: true },
    }),
  };

  const d1 = dConfig(BOX.d1[0], BOX.d1[1], {
    xMin: -0.11, xMax: 4.54, yMin: -0.22, yMax: 6.96, yTicks: [0, 2, 4, 6],
    sets: [
      ...band(fitLmo1X, fitLmo1Hi, fitLmo1Lo, fitLmo1, RED, "rgba(230,75,53,0.25)"),
      ...band(fitX1, fitBest4Hi, fitBest4Lo, fitBest4, BLUE, "rgba(77,187,213,0.25)"),
      cloud(dLmo1, "rgba(230,75,53,0.62)", 2),
      cloud(dBest4, "rgba(77,187,213,0.62)", 3),
    ],
  });
  const d2 = dConfig(BOX.d2[0], BOX.d2[1], {
    xMin: -0.14, xMax: 4.52, yMin: -0.2, yMax: 7.14, yTicks: [0, 2, 4, 6],
    sets: [
      ...band(fitX2, fitTmem44Hi, fitTmem44Lo, fitTmem44, RED, "rgba(230,75,53,0.25)"),
      ...band(fitX2, fitArid3cHi, fitArid3cLo, fitArid3c, BLUE, "rgba(77,187,213,0.25)"),
      cloud(dTmem44, "rgba(230,75,53,0.65)", 2),
      cloud(dArid3c, "rgba(77,187,213,0.65)", 3),
    ],
  });
  const d3 = dConfig(BOX.d3[0], BOX.d3[1], {
    xMin: -0.117, xMax: 4.56, yMin: -0.03, yMax: 10.9, yTicks: [0, 2, 4, 6, 8, 10],
    sets: [
      ...band(fitX3, fitFkbp10Hi, fitFkbp10Lo, fitFkbp10, BLUE, "rgba(77,187,213,0.25)"),
      ...band(fitX3, fitTrib3Hi, fitTrib3Lo, fitTrib3, RED, "rgba(230,75,53,0.25)"),
      cloud(dTrib3, "rgba(230,75,53,0.65)", 2),
      cloud(dFkbp10, "rgba(77,187,213,0.65)", 3),
    ],
  });

  return {
    a: aConfig,
    bUp: bUpConfig,
    bDown: bDownConfig,
    cBar: cBarConfig,
    cHeat: cHeatConfig,
    d1, d2, d3,
    e: stripConfig(BOX.e[0], BOX.e[1], { meanA: eMeanA, hiA: eHiA, loA: eLoA, meanB: eMeanB, hiB: eHiB, loB: eLoB, blockA: eBlockA, blockB: eBlockB, dotsA: eDotsA, dotsB: eDotsB, edgeA: eEdgeA, edgeB: eEdgeB, brackets: eBrackets, sig: eSig, xMin: -0.586, xMax: 5.66, yMin: -0.91, yMax: 11 }),
    f: fConfig(BOX.f[0], BOX.f[1]),
    g: stripConfig(BOX.g[0], BOX.g[1], { meanA: gMeanA, hiA: gHiA, loA: gLoA, meanB: gMeanB, hiB: gHiB, loB: gLoB, blockA: gBlockA, blockB: gBlockB, dotsA: gDotsA, dotsB: gDotsB, edgeA: gEdgeA, edgeB: gEdgeB, brackets: gBrackets, sig: gSig, xMin: -0.593, xMax: 5.66, yMin: -1.15, yMax: 10.75 }),
    h: stripConfig(BOX.h[0], BOX.h[1], { meanA: hMeanA, hiA: hHiA, loA: hLoA, meanB: hMeanB, hiB: hHiB, loB: hLoB, blockA: hBlockA, blockB: hBlockB, dotsA: hDotsA, dotsB: hDotsB, edgeA: hEdgeA, edgeB: hEdgeB, brackets: hBrackets, sig: hSig, xMin: -0.597, xMax: 5.54, yMin: -1.15, yMax: 10.82 }),
    i: stripConfig(BOX.i[0], BOX.i[1], { meanA: iMeanA, hiA: iHiA, loA: iLoA, meanB: iMeanB, hiB: iHiB, loB: iLoB, blockA: iBlockA, blockB: iBlockB, dotsA: iDotsA, dotsB: iDotsB, edgeA: iEdgeA, edgeB: iEdgeB, brackets: iBrackets, sig: iSig, xMin: -0.6, xMax: 5.53, yMin: -1.12, yMax: 10.76 }),
    j: stripConfig(BOX.j[0], BOX.j[1], { meanA: jMeanA, hiA: jHiA, loA: jLoA, meanB: jMeanB, hiB: jHiB, loB: jLoB, blockA: jBlockA, blockB: jBlockB, dotsA: jDotsA, dotsB: jDotsB, edgeA: jEdgeA, edgeB: jEdgeB, brackets: jBrackets, sig: jSig, xMin: -0.596, xMax: 5.63, yMin: -1.19, yMax: 10.76 }),
  };
}

// ---------- DOM text ----------
function T({ x, y, s = 13, a = "l", r = 0, b = false, i = false, c = INK, children }: any) {
  const tx = a === "l" ? "0" : a === "r" ? "-100%" : "-50%";
  return (
    <span
      style={{
        position: "absolute", left: x, top: y, fontFamily: FONT, fontSize: s, fontWeight: b ? 700 : 400, fontStyle: i ? "italic" : "normal",
        color: c, whiteSpace: "nowrap", lineHeight: 1, transform: `translate(${tx},-50%) rotate(${r}deg)`,
      }}
    >
      {children}
    </span>
  );
}
const Letter = ({ x, y, children }: any) => (
  <span style={{ position: "absolute", left: x, top: y, fontFamily: '"Liberation Sans", sans-serif', fontWeight: 700, fontSize: 21, lineHeight: 1, color: "#000", transform: "translateY(-50%)" }}>{children}</span>
);
const Sub = () => <sub style={{ fontSize: "0.72em", lineHeight: 0 }}>2</sub>;
const Dot = ({ x, y, r, c, hollow }: any) => (
  <div style={{ position: "absolute", left: x - r, top: y - r, width: 2 * r, height: 2 * r, borderRadius: "50%", boxSizing: "border-box", background: hollow ? "transparent" : c, border: hollow ? "1px solid #222" : "none" }} />
);
const Rect = ({ x, y, w, h, bg }: any) => <div style={{ position: "absolute", left: x, top: y, width: w, height: h, background: bg }} />;
const YTitle = ({ x1, x2, y }: any) => (
  <>
    <T x={x1} y={y} a="c" r={-90} s={12.8}>The&nbsp;&nbsp;expression&nbsp;&nbsp;levels</T>
    <T x={x2} y={y} a="c" r={-90} s={12.8}>Log<Sub /> (TPM+1)</T>
  </>
);
const Stat = ({ x, y, c, name, r }: any) => (
  <>
    <T x={x} y={y} c={c} s={12.5}>{name}</T>
    <T x={x} y={y + 11} c={c} s={12.5}>r = {r}</T>
    <T x={x} y={y + 22} c={c} s={12.5}><i>P</i> &lt; 0.001</T>
  </>
);
const DX = ({ x }: any) => (
  <>
    <T x={x} y={402.7} a="c" s={12.8}>The expression of VSX1</T>
    <T x={x} y={414} a="c" s={12.8}>Log<Sub /> (TPM+1)</T>
  </>
);
const Legend2 = ({ dx, y1, y2, tx, s1, s2, r = 2.5 }: any) => (
  <>
    <Dot x={dx} y={y1} r={r} c={BLUE} />
    <Dot x={dx} y={y2} r={r} c={RED} />
    <T x={tx} y={y1} s={13.5}>{s1}</T>
    <T x={tx} y={y2} s={13.5}>{s2}</T>
  </>
);

export default function App() {
  const refs = useRef<Record<string, HTMLCanvasElement | null>>({});
  useEffect(() => {
    const cfgs = buildConfigs();
    const charts = Object.keys(cfgs).map((k) => new Chart(refs.current[k] as any, cfgs[k]));
    return () => charts.forEach((c) => c.destroy());
  }, []);
  return (
    <div style={{ position: "absolute", left: 0, top: 0, width: 784, height: 924, overflow: "hidden", background: "#fff" }}>
      {Object.keys(BOX).map((k) => {
        const b = BOX[k][0];
        return <canvas key={k} ref={(el) => { refs.current[k] = el; }} width={b[2]} height={b[3]} style={{ position: "absolute", left: b[0], top: b[1], width: b[2], height: b[3] }} />;
      })}

      {/* letters */}
      <Letter x={6} y={14}>a</Letter>
      <Letter x={318} y={13}>b</Letter>
      <Letter x={7} y={240}>c</Letter>
      <Letter x={302} y={237}>d</Letter>
      <Letter x={7} y={434}>e</Letter>
      <Letter x={386} y={434}>f</Letter>
      <Letter x={6} y={611}>g</Letter>
      <Letter x={386} y={608}>h</Letter>
      <Letter x={6} y={769}>i</Letter>
      <Letter x={386} y={771}>j</Letter>

      {/* a */}
      <T x={12.7} y={102} a="c" r={-90} s={14}>Cor-Spearman with VSX1</T>
      <T x={176} y={207.7} a="c" s={13.5}>Rank of differentially expressed genes</T>
      <T x={55} y={143} a="c" r={-90} s={13.5}>Cor-Spearman</T>
      {[[130, 1, "0.1"], [140, 1.7, "0.2"], [150, 2.5, "0.3"], [160, 3.5, "0.4"]].map(([y, r, t]: any) => (
        <React.Fragment key={t}>
          <Dot x={67.3} y={y} r={r} c="#555" />
          <T x={73} y={y} s={13.5}>{t}</T>
        </React.Fragment>
      ))}
      <T x={68.3} y={41} a="c" r={-90} s={12.5}>BEST4</T>
      <T x={81.7} y={45} a="c" r={-90} s={12.5}>LMO1</T>
      <T x={96} y={48} a="c" r={-90} s={12.5}>ARID3C</T>
      <T x={108} y={47} a="c" r={-90} s={12.5}>TMEM44</T>
      <T x={121.7} y={50} a="c" r={-90} s={12.5}>FKBP10</T>
      <T x={134.3} y={55} a="c" r={-90} s={12.5}>TRIB3</T>

      {/* b */}
      <T x={592} y={4.5} a="r" b s={12.5}>UP TOP100</T>
      <T x={592} y={68} a="r" b s={12.5}>DOWN TOP100</T>
      <T x={645.7} y={62.3} a="c" s={12.5}>GeneRatio</T>
      <T x={646} y={239.3} a="c" s={12.5}>GeneRatio</T>
      <T x={695} y={10} s={12.5}>Counts</T>
      <Dot x={702} y={20.7} r={2} hollow />
      <Dot x={702} y={30.7} r={5} hollow />
      <T x={710.7} y={20} s={12.5}>4.0</T>
      <T x={710.7} y={30} s={12.5}>6.0</T>
      <T x={732.7} y={8} s={12.5}><i>P</i>.adjust</T>
      <Rect x={731.7} y={15} w={10} h={39} bg={`linear-gradient(${BLUE},${RED})`} />
      {[["0.055", 19], ["0.050", 29], ["0.045", 38.3], ["0.040", 47.7]].map(([t, y]: any) => <T key={t} x={743} y={y} s={12.5}>{t}</T>)}
      <T x={694} y={128.3} s={12.5}>Counts</T>
      <Dot x={697.3} y={140} r={2} hollow />
      <Dot x={697.3} y={149} r={3.5} hollow />
      <Dot x={697.3} y={157} r={4.5} hollow />
      {[["5", 140], ["10", 149], ["15", 157]].map(([t, y]: any) => <T key={t} x={705.7} y={y} s={12.5}>{t}</T>)}
      <T x={736.7} y={128.3} s={12.5}><i>P</i>.adjust</T>
      <Rect x={736.7} y={133} w={7.6} h={35} bg={`linear-gradient(${BLUE},${RED})`} />
      {[["0.0075", 140], ["0.0050", 150.7], ["0.0025", 160.7]].map(([t, y]: any) => <T key={t} x={746.7} y={y} s={12}>{t}</T>)}

      {/* c */}
      <T x={16.7} y={277} a="c" r={-90} s={13}>VSX1</T>
      <T x={28} y={277} a="c" r={-90} s={13}>Log<Sub />(TPM+1)</T>
      <T x={90} y={253} a="c" s={12.5}>Z−score</T>
      <Rect x={53} y={257.7} w={76} h={9} bg={`linear-gradient(90deg,${BLUE} 0%,#ffffff 30%,#F8C7BE 52%,${RED} 100%)`} />
      {[["−2.5", 60], ["0.0", 77.3], ["2.5", 94.3], ["5.0", 111.3], ["7.5", 126.7]].map(([t, x]: any) => <T key={t} x={x} y={276} a="c" r={90} s={13}>{t}</T>)}
      <Rect x={226} y={256.7} w={8} h={8.3} bg={BLUE} />
      <Rect x={226} y={265.7} w={8} h={8.3} bg={RED} />
      <T x={238} y={260.5} s={13.5}>Low</T>
      <T x={238} y={269.5} s={13.5}>High</T>
      {[320.7, 335.3, 350.7, 366.3, 381.3, 397].map((y, i) => (
        <React.Fragment key={y}>
          <T x={49} y={y} a="r" s={12}>{genes[i]}</T>
          <T x={274} y={y + 1} s={15}>***</T>
        </React.Fragment>
      ))}

      {/* d */}
      <YTitle x1={306} x2={316.7} y={321.7} />
      <DX x={400} /><DX x={552.7} /><DX x={710.7} />
      <Stat x={339} y={260} c={RED} name="LMO1" r="0.352" />
      <Stat x={416.7} y={260} c={BLUE} name="BEST4" r="0.333" />
      <T x={467.3} y={377.3} a="r" b s={12.5}>Pearson</T>
      <Stat x={568.3} y={260} c={RED} name="TMEM44" r="0.291" />
      <Stat x={566.7} y={315.7} c={BLUE} name="ARID3C" r="0.332" />
      <T x={773.3} y={259.3} a="r" b s={12.5}>Pearson</T>
      <Stat x={666} y={352.3} c={RED} name="TRIB3" r="0.304" />
      <Stat x={724.3} y={352.3} c={BLUE} name="FKBP10" r="0.285" />

      {/* e */}
      <YTitle x1={9.5} x2={20} y={508} />
      <Legend2 dx={42.7} y1={445} y2={455} tx={49.3} s1="Normal" s2="Tumor" />
      {/* f */}
      <YTitle x1={403.7} x2={414.7} y={503} />
      {/* g */}
      <YTitle x1={6.7} x2={16.7} y={681.7} />
      <T x={38.3} y={610.7} s={13.5}>T stage</T>
      <Legend2 dx={42.7} y1={621.7} y2={631.7} tx={46} s1="T1&T2" s2="T3&T4" />
      {/* h */}
      <YTitle x1={398} x2={408.7} y={680} />
      <T x={432} y={611.7} s={13.5}>N stage</T>
      <Legend2 dx={438.7} y1={621.7} y2={631.7} tx={442} s1="N0" s2="N1" />
      {/* i */}
      <YTitle x1={6} x2={16.7} y={850} />
      <T x={39.3} y={778.3} s={13.5}>M stage</T>
      <Legend2 dx={44.3} y1={789.3} y2={799.3} tx={49.3} s1="M0" s2="M1" />
      {/* j */}
      <YTitle x1={399.3} x2={409.3} y={848} />
      <T x={432} y={776.7} s={13.5}>Pathologic stage</T>
      <Legend2 dx={437.7} y1={787.3} y2={797.7} tx={442} s1="Stage I&Stage II" s2="Stage III&Stage IV" />
    </div>
  );
}
